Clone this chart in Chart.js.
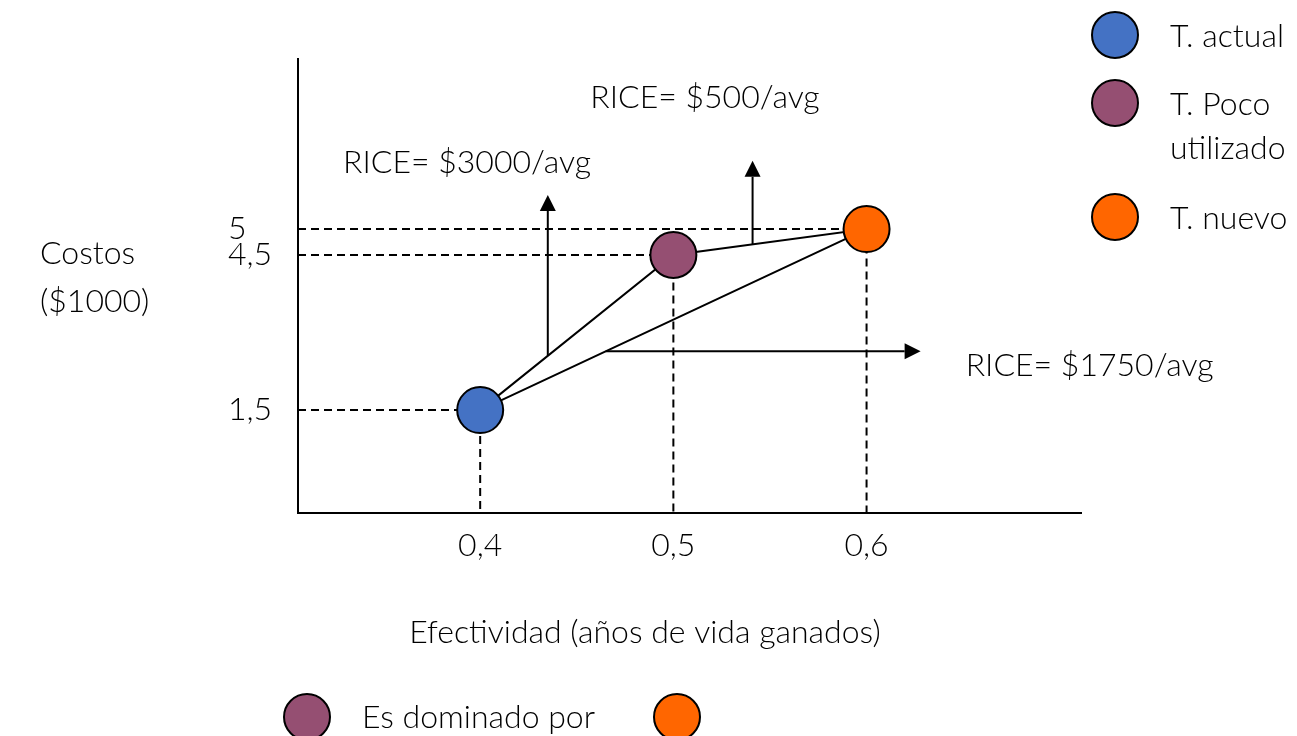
<!DOCTYPE html>
<html lang="es">
<head>
<meta charset="utf-8">
<title>Costo-efectividad</title>
<script src="https://cdn.jsdelivr.net/npm/chart.js@4.4.1/dist/chart.umd.min.js"></script>
<style>
  html, body { margin: 0; padding: 0; background: #fff; }
  canvas { display: block; }
</style>
</head>
<body>
<canvas id="grafico-rice" width="1297" height="736"></canvas>
<script>
// Tratamientos comparados
const tratamientos = ['T. actual', 'T. Poco\nutilizado', 'T. nuevo'];
const efectividad = [0.4, 0.5, 0.6];   // años de vida ganados
const costos = [1.5, 4.5, 5];          // en $1000
const colores = ['#4472C4', '#954F72', '#FF6600'];

const ticksX = [0.4, 0.5, 0.6];
const ticksY = [1.5, 4.5, 5];

// Razones incrementales de costo-efectividad
const etiquetasRice = ['RICE= $3000/avg', 'RICE= $500/avg', 'RICE= $1750/avg'];

const FUENTE = '"Lato", "Open Sans", sans-serif';
const TAM = 32;
const NEGRO = '#000';

// Flechas que salen de los segmentos entre tratamientos (en unidades de los ejes)
const flechas = [
  { entre: [0, 1], x: 0.435, finY: 5.66, textoX: 0.329, textoY: 6.083 },
  { entre: [1, 2], x: 0.541, finY: 6.32, textoX: 0.457, textoY: 7.34 },
  { entre: [0, 2], x: 0.465, finX: 0.628, textoX: 0.6513, textoY: 2.157 }
];

const limitesX = { min: 0.3057, max: 0.711 };
const limitesY = { min: -0.49, max: 8.29 };

function punto(i) {
  return { x: efectividad[i], y: costos[i] };
}

function formatoComa(v) {
  return String(v).replace('.', ',');
}

function dibujarFlecha(ctx, x1, y1, x2, y2) {
  const ang = Math.atan2(y2 - y1, x2 - x1);
  const largo = 16, ancho = 8;
  const bx = x2 - Math.cos(ang) * largo;
  const by = y2 - Math.sin(ang) * largo;
  ctx.beginPath();
  ctx.moveTo(x1, y1);
  ctx.lineTo(bx, by);
  ctx.stroke();
  ctx.beginPath();
  ctx.moveTo(x2, y2);
  ctx.lineTo(bx + Math.sin(ang) * ancho, by - Math.cos(ang) * ancho);
  ctx.lineTo(bx - Math.sin(ang) * ancho, by + Math.cos(ang) * ancho);
  ctx.closePath();
  ctx.fill();
}

function circulo(ctx, x, y, r, color) {
  ctx.beginPath();
  ctx.arc(x, y, r, 0, Math.PI * 2);
  ctx.fillStyle = color;
  ctx.fill();
  ctx.lineWidth = 2;
  ctx.strokeStyle = NEGRO;
  ctx.stroke();
}

const extras = {
  id: 'extras',
  afterDatasetsDraw(chart) {
    const { ctx, scales: { x, y } } = chart;
    ctx.save();
    ctx.strokeStyle = NEGRO;
    ctx.fillStyle = NEGRO;
    ctx.lineWidth = 2;
    flechas.forEach((f, k) => {
      const a = punto(f.entre[0]), b = punto(f.entre[1]);
      const t = (f.x - a.x) / (b.x - a.x);
      const yIni = a.y + (b.y - a.y) * t;
      const x1 = x.getPixelForValue(f.x), y1 = y.getPixelForValue(yIni);
      const x2 = f.finX !== undefined ? x.getPixelForValue(f.finX) : x1;
      const y2 = f.finY !== undefined ? y.getPixelForValue(f.finY) : y1;
      dibujarFlecha(ctx, x1, y1, x2, y2);

      ctx.font = `300 ${TAM}px ${FUENTE}`;
      ctx.textAlign = 'left';
      ctx.textBaseline = 'alphabetic';
      ctx.fillText(etiquetasRice[k], x.getPixelForValue(f.textoX), y.getPixelForValue(f.textoY));
    });
    ctx.restore();
  },
  afterDraw(chart) {
    const { ctx, chartArea } = chart;
    ctx.save();
    ctx.font = `300 ${TAM}px ${FUENTE}`;
    ctx.textAlign = 'left';
    ctx.textBaseline = 'alphabetic';

    // Leyenda de tratamientos
    const lx = chartArea.right + 34;
    const filas = [35, 103, 217];
    tratamientos.forEach((nombre, i) => {
      circulo(ctx, lx, filas[i], 23, colores[i]);
      ctx.fillStyle = NEGRO;
      nombre.split('\n').forEach((linea, j) => {
        ctx.fillText(linea, lx + 55, filas[i] + 12 + j * 44);
      });
    });

    // Título del eje Y
    ctx.fillStyle = NEGRO;
    ctx.fillText('Costos', 40, 264);
    ctx.fillText('($1000)', 40, 312);

    // Título del eje X
    ctx.textAlign = 'center';
    ctx.fillText('Efectividad (años de vida ganados)', 645, 643);

    // Nota inferior
    circulo(ctx, 307, 717, 23, colores[1]);
    ctx.fillStyle = NEGRO;
    ctx.textAlign = 'left';
    ctx.fillText('Es dominado por', 362, 728);
    circulo(ctx, 677, 717, 23, colores[2]);
    ctx.restore();
  }
};

const guias = efectividad.map((ex, i) => ({
  type: 'line',
  data: [
    { x: limitesX.min, y: costos[i] },
    { x: ex, y: costos[i] },
    { x: ex, y: limitesY.min }
  ],
  borderColor: NEGRO,
  borderWidth: 2,
  borderDash: [8, 5],
  pointRadius: 0,
  fill: false,
  order: 3
}));

const ctx = document.getElementById('grafico-rice').getContext('2d');
new Chart(ctx, {
  data: {
    datasets: [
      {
        type: 'scatter',
        data: efectividad.map((v, i) => punto(i)),
        pointRadius: 23,
        pointBackgroundColor: colores,
        pointBorderColor: NEGRO,
        pointBorderWidth: 2,
        order: 0
      },
      {
        type: 'line',
        data: [0, 1, 2, 0].map(punto),
        borderColor: NEGRO,
        borderWidth: 2,
        pointRadius: 0,
        tension: 0,
        fill: false,
        order: 1
      },
      ...guias
    ]
  },
  options: {
    responsive: false,
    animation: false,
    layout: { padding: { left: 228, top: 59, right: 216, bottom: 153 } },
    plugins: { legend: { display: false }, tooltip: { enabled: false } },
    scales: {
      x: {
        type: 'linear',
        min: limitesX.min,
        max: limitesX.max,
        afterBuildTicks: s => { s.ticks = ticksX.map(v => ({ value: v })); },
        afterFit: s => { s.height = 70; },
        ticks: {
          callback: formatoComa,
          color: NEGRO,
          font: { family: FUENTE, size: TAM, weight: '300' },
          padding: 13,
          autoSkip: false,
          maxRotation: 0
        },
        grid: { display: false, drawTicks: false },
        border: { display: true, color: NEGRO, width: 2 }
      },
      y: {
        type: 'linear',
        min: limitesY.min,
        max: limitesY.max,
        afterBuildTicks: s => { s.ticks = ticksY.map(v => ({ value: v })); },
        afterFit: s => { s.width = 70; },
        ticks: {
          callback: formatoComa,
          color: NEGRO,
          font: { family: FUENTE, size: TAM, weight: '300' },
          crossAlign: 'far',
          padding: 0,
          autoSkip: false
        },
        grid: { display: false, drawTicks: false },
        border: { display: true, color: NEGRO, width: 2 }
      }
    }
  },
  plugins: [extras]
});
</script>
</body>
</html>
